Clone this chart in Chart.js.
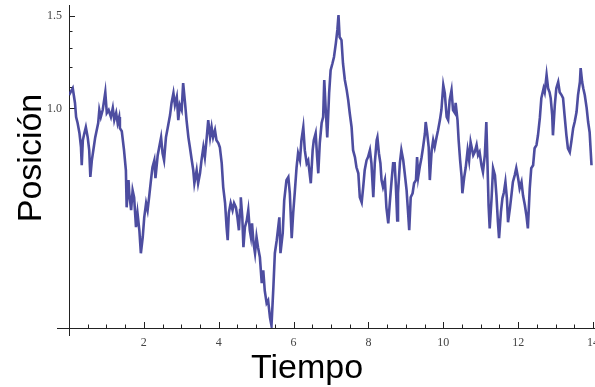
<!DOCTYPE html>
<html>
<head>
<meta charset="utf-8">
<script src="https://cdn.jsdelivr.net/npm/chart.js@4.4.1/dist/chart.umd.min.js"></script>
<style>
  html, body { margin: 0; padding: 0; background: #fff; }
  #wrap { width: 595px; height: 387px; position: relative; }
</style>
</head>
<body>
<div id="wrap"><canvas id="walk"></canvas></div>
<script>
// Sampled path of the particle: time and position
const times = [
  0.00, 0.10, 0.16, 0.19, 0.23, 0.28, 0.32, 0.34, 0.37, 0.41, 0.45, 0.50, 0.54, 0.57, 0.61, 0.65,
  0.70, 0.74, 0.78, 0.81, 0.85, 0.90, 0.94, 0.97, 1.01, 1.06, 1.12, 1.17, 1.21, 1.26, 1.30, 1.34,
  1.36, 1.41, 1.47, 1.52, 1.54, 1.59, 1.61, 1.66, 1.70, 1.74, 1.79, 1.83, 1.88, 1.92, 1.97, 2.01,
  2.06, 2.10, 2.14, 2.19, 2.23, 2.28, 2.31, 2.37, 2.41, 2.46, 2.50, 2.54, 2.59, 2.65, 2.70, 2.74,
  2.79, 2.83, 2.88, 2.92, 2.96, 3.01, 3.05, 3.10, 3.14, 3.19, 3.23, 3.28, 3.32, 3.35, 3.41, 3.45,
  3.50, 3.54, 3.59, 3.63, 3.68, 3.72, 3.77, 3.81, 3.85, 3.90, 3.94, 3.99, 4.03, 4.08, 4.12, 4.17,
  4.21, 4.24, 4.27, 4.32, 4.37, 4.41, 4.46, 4.50, 4.54, 4.57, 4.59, 4.63, 4.66, 4.70, 4.75, 4.79,
  4.83, 4.86, 4.89, 4.93, 4.97, 5.01, 5.05, 5.10, 5.15, 5.19, 5.23, 5.28, 5.32, 5.37, 5.41, 5.46,
  5.50, 5.55, 5.59, 5.62, 5.65, 5.71, 5.75, 5.81, 5.86, 5.90, 5.95, 5.99, 6.03, 6.08, 6.12, 6.17,
  6.21, 6.26, 6.30, 6.35, 6.39, 6.44, 6.46, 6.51, 6.54, 6.59, 6.63, 6.66, 6.70, 6.75, 6.79, 6.82,
  6.86, 6.90, 6.95, 6.99, 7.04, 7.08, 7.13, 7.17, 7.20, 7.23, 7.28, 7.32, 7.37, 7.42, 7.46, 7.50,
  7.55, 7.59, 7.64, 7.68, 7.73, 7.77, 7.82, 7.86, 7.90, 7.95, 7.99, 8.04, 8.08, 8.13, 8.17, 8.22,
  8.24, 8.28, 8.32, 8.35, 8.39, 8.44, 8.48, 8.53, 8.57, 8.62, 8.66, 8.70, 8.73, 8.77, 8.79, 8.84,
  8.88, 8.93, 8.97, 9.02, 9.06, 9.09, 9.13, 9.18, 9.22, 9.27, 9.30, 9.33, 9.37, 9.42, 9.46, 9.51,
  9.53, 9.57, 9.61, 9.64, 9.69, 9.73, 9.77, 9.82, 9.86, 9.91, 9.95, 10.00, 10.04, 10.09, 10.13, 10.17,
  10.22, 10.26, 10.31, 10.33, 10.38, 10.41, 10.45, 10.49, 10.51, 10.56, 10.60, 10.65, 10.69, 10.73, 10.80, 10.84,
  10.89, 10.93, 10.97, 11.02, 11.06, 11.11, 11.15, 11.18, 11.21, 11.24, 11.29, 11.33, 11.38, 11.42, 11.46, 11.49,
  11.54, 11.58, 11.62, 11.66, 11.70, 11.73, 11.78, 11.82, 11.86, 11.91, 11.95, 12.00, 12.04, 12.09, 12.13, 12.18,
  12.22, 12.26, 12.31, 12.35, 12.40, 12.44, 12.49, 12.53, 12.58, 12.62, 12.68, 12.71, 12.76, 12.80, 12.84, 12.87,
  12.91, 12.93, 12.98, 13.02, 13.07, 13.11, 13.16, 13.20, 13.24, 13.29, 13.33, 13.38, 13.42, 13.47, 13.51, 13.56,
  13.60, 13.65, 13.67, 13.71, 13.74, 13.78, 13.83, 13.87, 13.91, 13.96
];

const positions = [
  1.060, 1.092, 1.024, 0.963, 0.938, 0.897, 0.844, 0.780, 0.870, 0.897, 0.921, 0.881, 0.833, 0.741, 0.797, 0.833,
  0.881, 0.909, 0.938, 0.993, 0.963, 0.993, 1.037, 1.073, 0.980, 0.993, 0.963, 1.002, 0.950, 0.980, 0.938, 0.963,
  0.917, 0.905, 0.833, 0.763, 0.649, 0.731, 0.690, 0.641, 0.699, 0.678, 0.595, 0.633, 0.587, 0.531, 0.570, 0.621,
  0.661, 0.641, 0.678, 0.731, 0.773, 0.797, 0.737, 0.815, 0.844, 0.881, 0.822, 0.797, 0.881, 0.929, 0.971, 1.024,
  1.069, 1.015, 1.051, 0.950, 1.015, 0.993, 1.117, 1.024, 0.950, 0.881, 0.844, 0.797, 0.763, 0.721, 0.763, 0.721,
  0.753, 0.797, 0.844, 0.808, 0.881, 0.950, 0.881, 0.921, 0.881, 0.909, 0.870, 0.859, 0.844, 0.787, 0.709, 0.661,
  0.595, 0.562, 0.633, 0.661, 0.641, 0.661, 0.649, 0.621, 0.587, 0.641, 0.678, 0.621, 0.545, 0.595, 0.613, 0.641,
  0.587, 0.570, 0.605, 0.555, 0.531, 0.570, 0.545, 0.522, 0.466, 0.493, 0.451, 0.427, 0.432, 0.401, 0.387, 0.457,
  0.531, 0.562, 0.595, 0.621, 0.531, 0.580, 0.669, 0.731, 0.741, 0.690, 0.567, 0.633, 0.690, 0.773, 0.822, 0.797,
  0.870, 0.921, 0.833, 0.787, 0.797, 0.741, 0.721, 0.833, 0.870, 0.897, 0.808, 0.753, 0.859, 0.938, 0.963, 1.132,
  0.993, 0.881, 1.069, 1.182, 1.218, 1.252, 1.330, 1.409, 1.504, 1.366, 1.348, 1.218, 1.132, 1.083, 1.037, 0.980,
  0.921, 0.833, 0.808, 0.773, 0.753, 0.678, 0.663, 0.709, 0.763, 0.797, 0.808, 0.833, 0.787, 0.678, 0.787, 0.870,
  0.881, 0.822, 0.787, 0.731, 0.709, 0.731, 0.649, 0.605, 0.661, 0.731, 0.787, 0.787, 0.721, 0.613, 0.690, 0.787,
  0.833, 0.797, 0.753, 0.699, 0.633, 0.587, 0.678, 0.690, 0.721, 0.731, 0.808, 0.741, 0.773, 0.808, 0.844, 0.897,
  0.942, 0.897, 0.844, 0.731, 0.833, 0.870, 0.844, 0.881, 0.909, 0.950, 0.993, 1.107, 1.069, 0.963, 0.950, 1.037,
  1.083, 0.993, 0.980, 1.024, 0.950, 0.870, 0.797, 0.741, 0.690, 0.741, 0.773, 0.833, 0.797, 0.863, 0.815, 0.826,
  0.852, 0.815, 0.826, 0.780, 0.757, 0.815, 0.942, 0.790, 0.655, 0.592, 0.675, 0.770, 0.747, 0.684, 0.608, 0.567,
  0.636, 0.675, 0.693, 0.725, 0.675, 0.608, 0.646, 0.684, 0.725, 0.747, 0.770, 0.737, 0.705, 0.725, 0.684, 0.655,
  0.627, 0.592, 0.705, 0.770, 0.780, 0.840, 0.852, 0.889, 0.959, 1.046, 1.092, 1.073, 1.157, 1.092, 1.073, 1.046,
  0.971, 0.889, 1.015, 1.092, 1.122, 1.073, 1.060, 1.046, 0.971, 0.889, 0.840, 0.826, 0.863, 0.917, 0.942, 0.984,
  1.060, 1.122, 1.192, 1.122, 1.092, 1.060, 1.002, 0.942, 0.901, 0.780
];

// Axis ranges and labelled ticks
const timeRange = [0, 14];
const positionRange = [0.383, 1.571];
const timeLabels = [2, 4, 6, 8, 10, 12, 14];
const positionLabels = [1.0, 1.5];
const positionMinor = [1.1, 1.2, 1.3, 1.4];

const points = times.map((t, i) => ({ x: t, y: positions[i] }));

// Mathematica-style crossing axes with inward ticks, plus axis titles
const axesPlugin = {
  id: 'axes',
  beforeDatasetsDraw(chart) {
    const { ctx, chartArea: a, scales: { x, y } } = chart;
    ctx.save();
    ctx.strokeStyle = '#222';
    ctx.lineWidth = 1;
    ctx.beginPath();
    ctx.moveTo(57, a.bottom + 0.5);
    ctx.lineTo(595, a.bottom + 0.5);
    ctx.moveTo(a.left + 0.5, a.top);
    ctx.lineTo(a.left + 0.5, a.bottom + 8);
    // time ticks: major every 2, minor every 0.5
    for (let t = 0.5; t <= timeRange[1] + 0.001; t += 0.5) {
      const px = Math.round(x.getPixelForValue(t)) + 0.5;
      const len = Number.isInteger(t / 2) ? 6 : 3.5;
      ctx.moveTo(px, a.bottom);
      ctx.lineTo(px, a.bottom - len);
    }
    positionLabels.forEach(v => {
      const py = Math.round(y.getPixelForValue(v)) + 0.5;
      ctx.moveTo(a.left, py);
      ctx.lineTo(a.left + 6, py);
    });
    positionMinor.forEach(v => {
      const py = Math.round(y.getPixelForValue(v)) + 0.5;
      ctx.moveTo(a.left, py);
      ctx.lineTo(a.left + 3.5, py);
    });
    ctx.stroke();

    ctx.fillStyle = '#000';
    ctx.font = '34px "Liberation Sans", Arial, sans-serif';
    ctx.textAlign = 'center';
    ctx.textBaseline = 'alphabetic';
    ctx.fillText('Tiempo', 307, 378);
    ctx.translate(41, 158);
    ctx.rotate(-Math.PI / 2);
    ctx.fillText('Posición', 0, 0);
    ctx.restore();
  }
};

new Chart(document.getElementById('walk'), {
  type: 'line',
  data: {
    datasets: [{
      data: points,
      borderColor: 'rgba(58, 58, 150, 0.9)',
      borderWidth: 2.6,
      pointRadius: 0,
      tension: 0,
      fill: false
    }]
  },
  options: {
    responsive: true,
    maintainAspectRatio: false,
    animation: false,
    layout: { padding: { top: 5, right: 2, left: 0, bottom: 0 } },
    plugins: { legend: { display: false }, tooltip: { enabled: false } },
    scales: {
      x: {
        type: 'linear',
        min: timeRange[0],
        max: timeRange[1],
        grid: { display: false, drawTicks: false },
        border: { display: false },
        afterFit: scale => {
          scale.height = 59;
          scale.paddingLeft = 0;
          scale.paddingRight = 0;
        },
        afterBuildTicks: scale => { scale.ticks = timeLabels.map(v => ({ value: v })); },
        ticks: {
          padding: 8,
          maxRotation: 0,
          color: '#444',
          font: { family: '"Liberation Serif", "Times New Roman", serif', size: 12 },
          callback: v => String(v)
        }
      },
      y: {
        type: 'logarithmic',
        bounds: 'data',
        min: positionRange[0],
        max: positionRange[1],
        grid: { display: false, drawTicks: false },
        border: { display: false },
        afterFit: scale => {
          scale.width = 69;
          scale.paddingTop = 0;
          scale.paddingBottom = 0;
        },
        afterBuildTicks: scale => { scale.ticks = positionLabels.map(v => ({ value: v })); },
        ticks: {
          padding: 7,
          color: '#444',
          font: { family: '"Liberation Serif", "Times New Roman", serif', size: 12 },
          callback: v => Number(v).toFixed(1)
        }
      }
    }
  },
  plugins: [axesPlugin]
});
</script>
</body>
</html>
